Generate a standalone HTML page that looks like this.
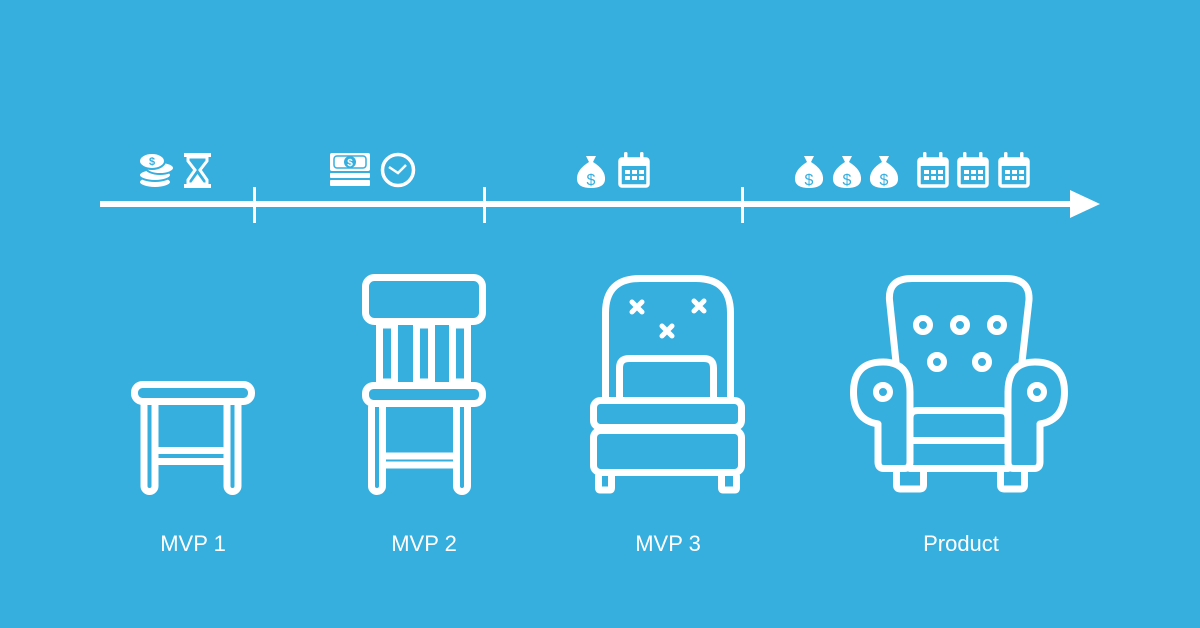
<!DOCTYPE html>
<html><head><meta charset="utf-8"><style>
html,body{margin:0;padding:0;background:#36afdf;}
svg{display:block}
text{font-family:"Liberation Sans",sans-serif;fill:#fff;}
</style></head><body>
<svg width="1200" height="628" viewBox="0 0 1200 628" xmlns="http://www.w3.org/2000/svg">
<rect width="1200" height="628" fill="#36afdf"/>
<!-- timeline -->
<rect x="100" y="201" width="976" height="6" fill="#fff"/>
<polygon points="1070,190 1100,204 1070,218" fill="#fff"/>
<rect x="253" y="187" width="3" height="36" fill="#fff"/>
<rect x="483" y="187" width="3" height="36" fill="#fff"/>
<rect x="741" y="187" width="3" height="36" fill="#fff"/>

<!-- coins -->
<g fill="#fff" stroke="#36afdf" stroke-width="2">
<ellipse cx="155" cy="182" rx="16" ry="6"/>
<ellipse cx="155" cy="175" rx="16" ry="6"/>
<ellipse cx="160" cy="168" rx="14" ry="6"/>
<ellipse cx="152" cy="161" rx="13" ry="8"/>
</g>
<text x="152" y="165" font-size="11" text-anchor="middle" style="fill:#36afdf;font-weight:bold">$</text>
<!-- hourglass -->
<g fill="#fff">
<rect x="184" y="153" width="27" height="4"/>
<rect x="184" y="184" width="27" height="4"/>
<path d="M188 157 L207 157 L207 161 L200 170 L207 180 L207 184 L188 184 L188 180 L195 170 L188 161Z" fill="none" stroke="#fff" stroke-width="3"/>
<path d="M191 183 L197.5 174 L204 183Z"/>
</g>
<!-- money stack -->
<g fill="#fff">
<rect x="330" y="153" width="40" height="18" rx="2"/>
<rect x="330" y="173" width="40" height="5" rx="1"/>
<rect x="330" y="180" width="40" height="6" rx="1"/>
<rect x="334" y="156" width="32" height="12" rx="3" fill="none" stroke="#36afdf" stroke-width="1.5"/>
<circle cx="350" cy="162" r="6" fill="#36afdf"/>
</g>
<text x="350" y="166" font-size="10" text-anchor="middle" style="font-weight:bold">$</text>
<!-- clock -->
<circle cx="398" cy="170" r="15.5" fill="none" stroke="#fff" stroke-width="3.5"/>
<path d="M389 167 L398 173 L406 165" fill="none" stroke="#fff" stroke-width="2.5"/>

<!-- money bags -->
<g id="bag">
<path d="M586 156 L596 156 L593 162 Q606 170 605 180 Q604 188 591 188 Q578 188 577 180 Q576 170 589 162Z" fill="#fff"/>
<text x="591" y="185" font-size="16" text-anchor="middle" style="fill:#36afdf">$</text>
</g>
<use href="#bag" x="218"/>
<use href="#bag" x="256"/>
<use href="#bag" x="293"/>

<!-- calendars -->
<g id="cal">
<rect x="620" y="159" width="28" height="27" rx="2" fill="none" stroke="#fff" stroke-width="3.5"/>
<rect x="620" y="159" width="28" height="7" fill="#fff"/>
<rect x="624" y="152" width="3.5" height="9" rx="1.5" fill="#fff"/>
<rect x="640" y="152" width="3.5" height="9" rx="1.5" fill="#fff"/>
<g fill="#fff">
<rect x="625" y="170" width="5" height="4"/><rect x="632" y="170" width="5" height="4"/><rect x="639" y="170" width="5" height="4"/>
<rect x="625" y="176" width="5" height="4"/><rect x="632" y="176" width="5" height="4"/><rect x="639" y="176" width="5" height="4"/>
</g>
</g>
<use href="#cal" x="299"/>
<use href="#cal" x="339"/>
<use href="#cal" x="380"/>

<g fill="none" stroke="#fff" stroke-width="7" stroke-linejoin="round" stroke-linecap="round">
<!-- stool -->
<rect x="134.5" y="384.5" width="117" height="17" rx="8"/>
<path d="M144 405 V486 a5 5 0 0 0 11 0 V405"/>
<path d="M227 405 V486 a5 5 0 0 0 11 0 V405"/>
<path d="M155 450.5 H227 M155 461.5 H227"/>
<!-- chair -->
<rect x="365.5" y="277.5" width="117" height="44" rx="9"/>
<rect x="365.5" y="385.5" width="117" height="18" rx="8"/>
<rect x="379.5" y="325" width="15" height="57"/>
<rect x="416.5" y="325" width="15" height="57"/>
<rect x="452.5" y="325" width="15" height="57"/>
<path d="M371.5 407 V486 a5 5 0 0 0 11 0 V407"/>
<path d="M456.5 407 V486 a5 5 0 0 0 11 0 V407"/>
<path d="M382.5 456 H456.5 M382.5 465 H456.5"/>
<!-- MVP3 chair -->
<path d="M605.5 397 V313 Q605.5 278.5 640 278.5 H696 Q730.5 278.5 730.5 313 V397"/>
<path d="M619.5 397 V368 Q619.5 358.5 629 358.5 H704 Q713.5 358.5 713.5 368 V397"/>
<rect x="593.5" y="400.5" width="148" height="27" rx="7"/>
<rect x="593.5" y="430.5" width="148" height="42" rx="7"/>
<path d="M598.5 476 V488 Q598.5 490 600 490 H610 Q611.5 490 611.5 488 V476"/>
<path d="M721.5 476 V488 Q721.5 490 723 490 H735 Q736.5 490 736.5 488 V476"/>
<!-- armchair -->
<path d="M896 362 L889.5 300 Q888 278.5 912 278.5 H1006 Q1030 278.5 1029 300 L1022 362"/>
<path d="M878 424 Q853.5 420 853.5 392 Q853.5 362 883 362 Q910 362 910 392 V462 Q910 468.5 904 468.5 H884 Q878 468.5 878 462 Z"/>
<path d="M1040 424 Q1064.5 420 1064.5 392 Q1064.5 362 1035 362 Q1008 362 1008 392 V462 Q1008 468.5 1014 468.5 H1034 Q1040 468.5 1040 462 Z"/>
<path d="M910 440 V418 Q910 410.5 918 410.5 H1000 Q1008 410.5 1008 418 V440 M910 440.5 H1008"/>
<path d="M910 468.5 H1008"/>
<path d="M896.5 472 V485 Q896.5 489 900 489 H920 Q923.5 489 923.5 485 V472"/>
<path d="M1000.5 472 V485 Q1000.5 489 1004 489 H1021 Q1024.5 489 1024.5 485 V472"/>
</g>
<!-- X marks -->
<g stroke="#fff" stroke-width="5" stroke-linecap="round">
<path d="M632 302 L642 312 M642 302 L632 312"/>
<path d="M694 301 L704 311 M704 301 L694 311"/>
<path d="M662 326 L672 336 M672 326 L662 336"/>
</g>
<!-- buttons -->
<g fill="none" stroke="#fff" stroke-width="6">
<circle cx="923" cy="325" r="7"/><circle cx="960" cy="325" r="7"/><circle cx="997" cy="325" r="7"/>
<circle cx="937" cy="362" r="7"/><circle cx="982" cy="362" r="7"/>
<circle cx="883" cy="392" r="7"/><circle cx="1037" cy="392" r="7"/>
</g>
<!-- labels -->
<g font-size="22" text-anchor="middle">
<text x="193" y="551">MVP 1</text>
<text x="424" y="551">MVP 2</text>
<text x="668" y="551">MVP 3</text>
<text x="961" y="551">Product</text>
</g>
</svg>
</body></html>
